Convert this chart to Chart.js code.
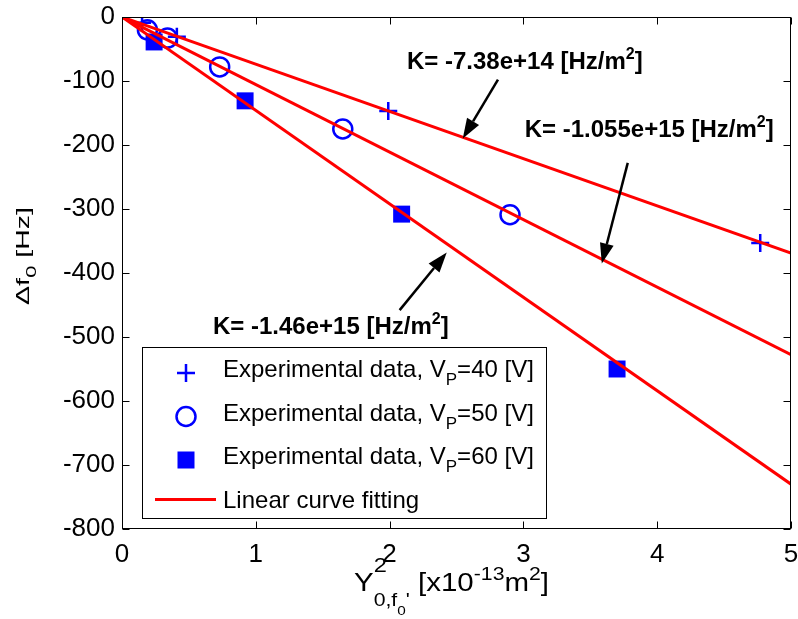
<!DOCTYPE html>
<html>
<head>
<meta charset="utf-8">
<script src="https://cdn.jsdelivr.net/npm/chart.js@4.4.1/dist/chart.umd.min.js"></script>
<style>
  html, body { margin: 0; padding: 0; background: #fff; overflow: hidden; }
  #wrap { width: 798px; height: 619px; overflow: hidden; }
</style>
</head>
<body>
<!-- canvas runs a few px past the frame so the plot box reaches the right edge -->
<div id="wrap"><canvas id="chart" width="803" height="619"></canvas></div>
<script>
// Frequency shift vs. Y0^2 (x in units of 1e-13 m^2), three polarisation voltages
const vp40X = [0.15, 0.41, 1.99, 4.77];
const vp40Y = [-9, -31, -147, -353];
const vp50X = [0.19, 0.34, 0.73, 1.65, 2.90];
const vp50Y = [-20, -33, -78, -175, -309];
const vp60X = [0.24, 0.92, 2.09, 3.70];
const vp60Y = [-39, -131, -308, -550];

// Linear fits through the origin, slope K in Hz/m^2
const fitK = [-7.38e14, -1.055e15, -1.46e15];
const fitKText = ['-7.38e+14', '-1.055e+15', '-1.46e+15'];
const fitRange = [0, 5];

const xTicks = [0, 1, 2, 3, 4, 5];
const yTicks = [-800, -700, -600, -500, -400, -300, -200, -100, 0];

const legendNames = ['Experimental data, V', 'Experimental data, V', 'Experimental data, V', 'Linear curve fitting'];
const legendVolts = ['40', '50', '60'];

const FONT = "'Liberation Sans', Arial, Helvetica, sans-serif";
const BLUE = '#0000ff';
const RED = '#ff0000';

const pts = (xs, ys) => xs.map((x, i) => ({ x: x, y: ys[i] }));
const fitLine = k => fitRange.map(x => ({ x: x, y: k * x * 1e-13 }));

// where each K label and its arrow sit (data coordinates)
const notes = [
  { k: 0, at: [2.13, -81], tail: [2.81, -98], tip: [2.547, -190] },
  { k: 1, at: [3.01, -188], tail: [3.78, -228], tip: [3.586, -385] },
  { k: 2, at: [0.68, -495], tail: [2.075, -458], tip: [2.427, -368] }
];

// draws a run of text pieces; pieces with keep:true do not advance the pen
function richWidth(ctx, parts) {
  let w = 0, held = 0;
  parts.forEach(p => {
    ctx.font = (p.bold ? 'bold ' : '') + p.size + 'px ' + FONT;
    const m = ctx.measureText(p.t).width;
    if (p.keep) { held = Math.max(held, m); }
    else { w += Math.max(m, held); held = 0; }
  });
  return w + held;
}
function drawRich(ctx, parts, x, y, width) {
  const natural = richWidth(ctx, parts);
  const sx = width ? width / natural : 1;
  ctx.save();
  ctx.translate(x, y);
  ctx.scale(sx, 1);
  ctx.textBaseline = 'alphabetic';
  ctx.textAlign = 'left';
  let pen = 0, held = 0;
  parts.forEach(p => {
    ctx.font = (p.bold ? 'bold ' : '') + p.size + 'px ' + FONT;
    ctx.fillText(p.t, pen + (p.dx || 0), p.dy || 0);
    const m = ctx.measureText(p.t).width + (p.dx || 0);
    if (p.keep) { held = Math.max(held, m); }
    else { pen += Math.max(m, held); held = 0; }
  });
  ctx.restore();
}

function marker(ctx, style, x, y) {
  ctx.save();
  ctx.strokeStyle = BLUE;
  ctx.fillStyle = BLUE;
  ctx.beginPath();
  if (style === 'cross') {
    ctx.lineWidth = 2.5;
    ctx.moveTo(x - 9, y); ctx.lineTo(x + 9, y);
    ctx.moveTo(x, y - 9); ctx.lineTo(x, y + 9);
    ctx.stroke();
  } else if (style === 'circle') {
    ctx.lineWidth = 2.5;
    ctx.arc(x, y, 9.5, 0, Math.PI * 2);
    ctx.stroke();
  } else {
    ctx.fillRect(x - 8.5, y - 8.5, 17, 17);
  }
  ctx.restore();
}

const frame = {
  id: 'frame',
  afterDatasetsDraw(chart) {
    const ctx = chart.ctx;
    const xs = chart.scales.x, ys = chart.scales.y;
    ctx.save();
    notes.forEach(n => {
      const tx = xs.getPixelForValue(n.tip[0]), ty = ys.getPixelForValue(n.tip[1]);
      const sx = xs.getPixelForValue(n.tail[0]), sy = ys.getPixelForValue(n.tail[1]);
      const ang = Math.atan2(ty - sy, tx - sx);
      const head = 20, half = 7;
      const bx = tx - head * Math.cos(ang), by = ty - head * Math.sin(ang);
      ctx.strokeStyle = '#000';
      ctx.fillStyle = '#000';
      ctx.lineWidth = 2.5;
      ctx.beginPath();
      ctx.moveTo(sx, sy);
      ctx.lineTo(bx, by);
      ctx.stroke();
      ctx.beginPath();
      ctx.moveTo(tx, ty);
      ctx.lineTo(bx + half * Math.sin(ang), by - half * Math.cos(ang));
      ctx.lineTo(bx - half * Math.sin(ang), by + half * Math.cos(ang));
      ctx.closePath();
      ctx.fill();

      drawRich(ctx, [
        { t: 'K= ' + fitKText[n.k] + ' [Hz/m', size: 24, bold: true },
        { t: '2', size: 16, bold: true, dy: -10 },
        { t: ']', size: 24, bold: true }
      ], xs.getPixelForValue(n.at[0]), ys.getPixelForValue(n.at[1]));
    });
    ctx.restore();
  },
  afterDraw(chart) {
    const ctx = chart.ctx;
    const a = chart.chartArea;
    const xs = chart.scales.x, ys = chart.scales.y;
    const L = Math.round(a.left) + 0.5, R = Math.round(a.right) - 0.5;
    const T = Math.round(a.top) + 0.5, B = Math.round(a.bottom) - 0.5;
    ctx.save();
    ctx.strokeStyle = '#000';
    ctx.lineWidth = 1;
    ctx.strokeRect(L, T, R - L, B - T);
    // inward ticks on all four sides
    ctx.beginPath();
    xTicks.forEach(v => {
      const px = Math.round(xs.getPixelForValue(v)) + 0.5;
      ctx.moveTo(px, B); ctx.lineTo(px, B - 7);
      ctx.moveTo(px, T); ctx.lineTo(px, T + 7);
    });
    yTicks.forEach(v => {
      const py = Math.round(ys.getPixelForValue(v)) + 0.5;
      ctx.moveTo(L, py); ctx.lineTo(L + 7, py);
      ctx.moveTo(R, py); ctx.lineTo(R - 7, py);
    });
    ctx.stroke();

    // legend
    const box = { x: 142.5, y: 347.5, w: 404, h: 171 };
    ctx.fillStyle = '#fff';
    ctx.fillRect(box.x, box.y, box.w, box.h);
    ctx.strokeRect(box.x, box.y, box.w, box.h);
    const styles = ['cross', 'circle', 'rect'];
    ctx.fillStyle = '#000';
    legendNames.forEach((name, i) => {
      const base = 377 + i * 43.5;
      if (i < 3) {
        marker(ctx, styles[i], 186, base - 4);
        drawRich(ctx, [
          { t: name, size: 24 },
          { t: 'P', size: 17, dy: 8 },
          { t: '=' + legendVolts[i] + ' [V]', size: 24 }
        ], 223, base);
      } else {
        ctx.save();
        ctx.strokeStyle = RED;
        ctx.lineWidth = 3;
        ctx.beginPath();
        ctx.moveTo(155, base - 8); ctx.lineTo(216, base - 8);
        ctx.stroke();
        ctx.restore();
        ctx.fillStyle = '#000';
        drawRich(ctx, [{ t: name, size: 24 }], 223, base);
      }
    });

    // axis titles
    ctx.fillStyle = '#000';
    drawRich(ctx, [
      { t: 'Y', size: 25 },
      { t: '2', size: 20, dy: -19, keep: true },
      { t: '0,f', size: 18, dy: 15 },
      { t: '0', size: 13, dy: 24 },
      { t: '\'', size: 18, dy: 15 },
      { t: ' [x10', size: 25 },
      { t: '-13', size: 18, dy: -11 },
      { t: 'm', size: 25 },
      { t: '2', size: 18, dy: -11 },
      { t: ']', size: 25 }
    ], 354, 591, 195);

    ctx.save();
    ctx.translate(29, 305);
    ctx.rotate(-Math.PI / 2);
    drawRich(ctx, [
      { t: '\u0394f', size: 19 },
      { t: '0', size: 15, dy: 7 },
      { t: ' [Hz]', size: 19 }
    ], 0, 0, 98);
    ctx.restore();
    ctx.restore();
  }
};

const tickFont = { family: FONT, size: 26 };

new Chart(document.getElementById('chart'), {
  type: 'scatter',
  data: {
    datasets: [
      ...fitK.map(k => ({
        type: 'line',
        data: fitLine(k),
        borderColor: RED,
        borderWidth: 3,
        pointRadius: 0,
        fill: false,
        order: 0
      })),
      {
        data: pts(vp40X, vp40Y),
        pointStyle: 'cross',
        pointRadius: 9,
        pointBorderWidth: 2.5,
        pointBorderColor: BLUE,
        order: 1
      },
      {
        data: pts(vp50X, vp50Y),
        pointStyle: 'circle',
        pointRadius: 9.5,
        pointBorderWidth: 2.5,
        pointBorderColor: BLUE,
        pointBackgroundColor: 'rgba(0,0,0,0)',
        order: 1
      },
      {
        data: pts(vp60X, vp60Y),
        pointStyle: 'rect',
        pointRadius: 12,
        pointBorderWidth: 0,
        pointBackgroundColor: BLUE,
        order: 1
      }
    ]
  },
  options: {
    responsive: false,
    animation: false,
    layout: { padding: { top: 17, right: 2, left: 0, bottom: 0 } },
    plugins: { legend: { display: false }, tooltip: { enabled: false } },
    scales: {
      x: {
        type: 'linear',
        min: 0, max: 5,
        afterBuildTicks: s => { s.ticks = xTicks.map(v => ({ value: v })); },
        afterFit: s => { s.height = 90; s.paddingLeft = 0; s.paddingRight = 0; },
        grid: { drawOnChartArea: false, drawTicks: false },
        border: { display: false },
        ticks: { font: tickFont, color: '#000', padding: 10, maxRotation: 0 }
      },
      y: {
        type: 'linear',
        min: -800, max: 0,
        afterBuildTicks: s => { s.ticks = yTicks.map(v => ({ value: v })); },
        afterFit: s => { s.width = 122; s.paddingTop = 0; s.paddingBottom = 0; },
        grid: { drawOnChartArea: false, drawTicks: false },
        border: { display: false },
        ticks: { font: tickFont, color: '#000', padding: 7 }
      }
    }
  },
  plugins: [frame]
});
</script>
</body>
</html>
